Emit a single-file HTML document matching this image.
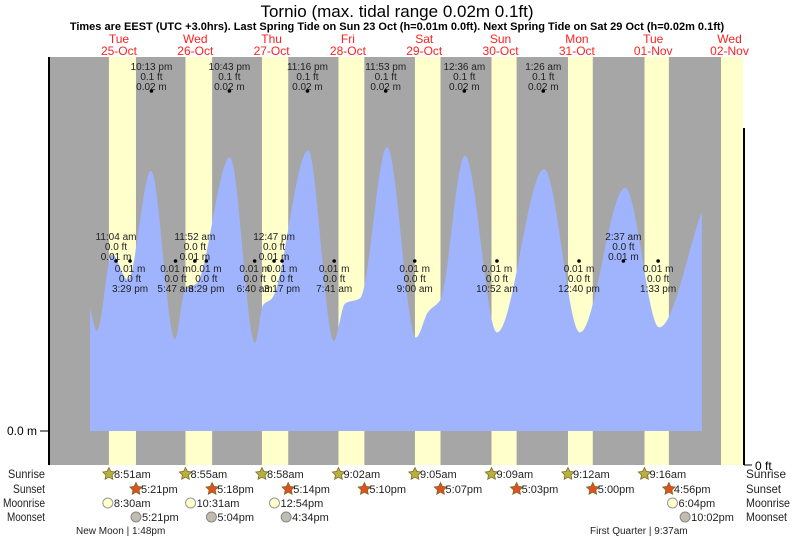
<!DOCTYPE html>
<html><head><meta charset="utf-8"><style>
body{margin:0;background:#fff;}
svg{display:block;font-family:"Liberation Sans",sans-serif;}
</style></head><body>
<svg id="chart" width="793" height="539" xmlns="http://www.w3.org/2000/svg">
<text x="397" y="17" font-size="17" text-anchor="middle">Tornio (max. tidal range 0.02m 0.1ft)</text>
<text x="397" y="30" font-size="11" font-weight="bold" text-anchor="middle">Times are EEST (UTC +3.0hrs). Last Spring Tide on Sun 23 Oct (h=0.01m 0.0ft). Next Spring Tide on Sat 29 Oct (h=0.02m 0.1ft)</text>
<g id="plot"></g>
<g id="labels"></g>
</svg>
<script>
const dayNames=["Tue","Wed","Thu","Fri","Sat","Sun","Mon","Tue","Wed"];
const dayDates=["25-Oct","26-Oct","27-Oct","28-Oct","29-Oct","30-Oct","31-Oct","01-Nov","02-Nov"];
const sunriseH=[8.85,8.92,8.97,9.03,9.08,9.15,9.2,9.27,9.32];
const sunsetH=[17.35,17.3,17.23,17.17,17.12,17.05,17.0,16.93,16.88];
const sunriseTxt=["8:51am","8:55am","8:58am","9:02am","9:05am","9:09am","9:12am","9:16am"];
const sunsetTxt=["5:21pm","5:18pm","5:14pm","5:10pm","5:07pm","5:03pm","5:00pm","4:56pm"];
const moonriseDay=[0,1,2,7];const moonriseH=[8.5,10.52,12.9,18.07];const moonriseTxt=["8:30am","10:31am","12:54pm","6:04pm"];
const moonsetDay=[0,1,2,7];const moonsetH=[17.35,17.07,16.57,22.03];const moonsetTxt=["5:21pm","5:04pm","4:34pm","10:02pm"];
// tide curve: hours since 25-Oct 00:00, level in metres
const tideHours=[2.9,5.1,9.8,14.8,22.1,29.6,32.8,36.5,46.9,54.8,57.3,60.1,71.5,79.6,83.1,87.8,96.3,105.4,109.2,113.0,120.8,130.9,145.7,157.0,171.2,181.9,195.3];
const tideLevels=[0.0072,0.0059,0.0104,0.0089,0.0153,0.0054,0.0083,0.0087,0.0161,0.0052,0.0074,0.0078,0.0165,0.0053,0.0075,0.0078,0.0167,0.0055,0.0070,0.0077,0.0162,0.0058,0.0154,0.0058,0.0143,0.0061,0.0129];
// annotated extremes
const highTopHours=[22.22,46.72,71.27,95.88,120.6,145.43];
const highTopTxt=["10:13 pm","10:43 pm","11:16 pm","11:53 pm","12:36 am","1:26 am"];
const midHighHours=[11.07,35.87,60.78,170.62];
const midHighTxt=["11:04 am","11:52 am","12:47 pm","2:37 am"];
const lowHours=[15.48,29.78,39.48,54.67,63.28,79.68,105.0,130.87,156.67,181.55];
const lowTxt=["3:29 pm","5:47 am","3:29 pm","6:40 am","3:17 pm","7:41 am","9:00 am","10:52 am","12:40 pm","1:33 pm"];

const X0=80.8,PX_H=3.18,Y0=431,PX_M=17000,TOP=57,BOT=465,LEFT=49,RIGHT=743;
const xs=h=>X0+PX_H*h, ys=m=>Y0-PX_M*m;
const NS="http://www.w3.org/2000/svg";
const plot=document.getElementById('plot'),lab=document.getElementById('labels');
function mk(tag,attrs,parent,txt){const e=document.createElementNS(NS,tag);for(const k in attrs)e.setAttribute(k,attrs[k]);if(txt!==undefined)e.textContent=txt;parent.appendChild(e);return e;}

let bg=mk('rect',{x:LEFT,y:TOP,width:RIGHT-LEFT,height:BOT-TOP,fill:'#a6a6a6'},plot);


for(let d=0;d<9;d++){
  const x1=xs(d*24+sunriseH[d]),x2=Math.min(RIGHT,xs(d*24+sunsetH[d]));
  const r=mk('rect',{x:x1,y:TOP,width:x2-x1,height:BOT-TOP,fill:'#ffffcc'},plot);
  
  
  const cx=xs(d*24+12);
  const t1=mk('text',{x:cx,y:43,'font-size':12,fill:'#ff2020','text-anchor':'middle'},lab,dayNames[d]);
  
  
  const t2=mk('text',{x:cx,y:55,'font-size':12,fill:'#ff2020','text-anchor':'middle'},lab,dayDates[d]);
  
  
}
// tide area with monotone cubic interpolation
const P=tideHours.map((h,i)=>[xs(h),ys(tideLevels[i])]);
const n=P.length,dk=[],mm=[];
for(let i=0;i<n-1;i++)dk.push((P[i+1][1]-P[i][1])/(P[i+1][0]-P[i][0]));
mm[0]=dk[0];mm[n-1]=dk[n-2];
for(let i=1;i<n-1;i++){
  if(dk[i-1]*dk[i]<=0)mm[i]=0;
  else{const w1=2*(P[i+1][0]-P[i][0])+(P[i][0]-P[i-1][0]),w2=(P[i+1][0]-P[i][0])+2*(P[i][0]-P[i-1][0]);mm[i]=(w1+w2)/(w1/dk[i-1]+w2/dk[i]);}
}
let d=`M${P[0][0]},${Y0} L${P[0][0]},${P[0][1]}`;
for(let i=0;i<n-1;i++){
  const h=(P[i+1][0]-P[i][0])/3;
  d+=` C${P[i][0]+h},${P[i][1]+mm[i]*h} ${P[i+1][0]-h},${P[i+1][1]-mm[i+1]*h} ${P[i+1][0]},${P[i+1][1]}`;
}
d+=` L${P[n-1][0]},${Y0} Z`;
const area=mk('path',{d:d,fill:'#a0b4fe'},plot);


// axes
const ax=mk('line',{x1:LEFT,y1:TOP,x2:LEFT,y2:BOT,stroke:'#000','stroke-width':2},plot);


const ax2=mk('line',{x1:RIGHT+1,y1:128,x2:RIGHT+1,y2:BOT,stroke:'#000','stroke-width':2},plot);


mk('line',{x1:40,y1:Y0,x2:49,y2:Y0,stroke:'#000'},plot);
mk('line',{x1:744,y1:BOT,x2:752,y2:BOT,stroke:'#000'},plot);
const yl=mk('text',{x:37,y:Y0+4,'font-size':12,'text-anchor':'end'},lab,'0.0 m');


const yr=mk('text',{x:755,y:BOT+5,'font-size':12},lab,'0 ft');


// annotations
function ann(x,lines,ys0,dotY,name){
  const g=mk('g',{},lab);
  
  
  lines.forEach((s,i)=>mk('text',{x:x,y:ys0+i*10,'font-size':10,'text-anchor':'middle',fill:'#222'},g,s));
  mk('circle',{cx:x,cy:dotY,r:1.8,fill:'#000'},g);
}
highTopHours.forEach((h,i)=>ann(xs(h),[highTopTxt[i],'0.1 ft','0.02 m'],70,91,'high-tide-label'));
midHighHours.forEach((h,i)=>ann(xs(h),[midHighTxt[i],'0.0 ft','0.01 m'],240,261,'tide-label'));
lowHours.forEach((h,i)=>ann(xs(h),['0.01 m','0.0 ft',lowTxt[i]],272,261,'low-tide-label'));
// bottom rows
[['Sunrise',478,37,40],['Sunset',493,32,35],['Moonrise',507,42,44],['Moonset',521,38,41]].forEach(([t,y,wl,wr])=>{
  const a=mk('text',{x:45,y:y,'font-size':12,'text-anchor':'end',fill:'#222',textLength:wl,lengthAdjust:'spacingAndGlyphs'},lab,t);
  
  
  const b=mk('text',{x:746,y:y,'font-size':12,fill:'#222',textLength:wr,lengthAdjust:'spacingAndGlyphs'},lab,t);
  
  
});
function star(cx,cy,fill){let pts=[];for(let i=0;i<10;i++){const r=i%2?3.2:6.5,a=-Math.PI/2+i*Math.PI/5;pts.push((cx+r*Math.cos(a)).toFixed(1)+','+(cy+r*Math.sin(a)).toFixed(1));}return mk('polygon',{points:pts.join(' '),fill:fill,stroke:'#7a6a20','stroke-width':0.8},lab);}
for(let i=0;i<8;i++){
  let x=xs(i*24+sunriseH[i]);
  const s=star(x,474,'#b8b040');
  const t=mk('text',{x:x+5,y:478,'font-size':11,fill:'#222'},lab,sunriseTxt[i]);
  x=xs(i*24+sunsetH[i]);
  const s2=star(x,489,'#e05020');
  const t2=mk('text',{x:x+5,y:493,'font-size':11,fill:'#222'},lab,sunsetTxt[i]);
}
moonriseDay.forEach((dd,i)=>{const x=xs(dd*24+moonriseH[i]);
  const c=mk('circle',{cx:x,cy:503,r:5,fill:'#ffffcc',stroke:'#999'},lab);
  const t=mk('text',{x:x+6,y:507,'font-size':11,fill:'#222'},lab,moonriseTxt[i]);});
moonsetDay.forEach((dd,i)=>{const x=xs(dd*24+moonsetH[i]);
  const c=mk('circle',{cx:x,cy:517,r:5,fill:'#c0bcb0',stroke:'#888'},lab);
  const t=mk('text',{x:x+6,y:521,'font-size':11,fill:'#222'},lab,moonsetTxt[i]);});
const m1=mk('text',{x:76,y:534,'font-size':10,fill:'#222'},lab,'New Moon | 1:48pm');
const m2=mk('text',{x:590,y:534,'font-size':10,fill:'#222'},lab,'First Quarter | 9:37am');
</script>
</body></html>
